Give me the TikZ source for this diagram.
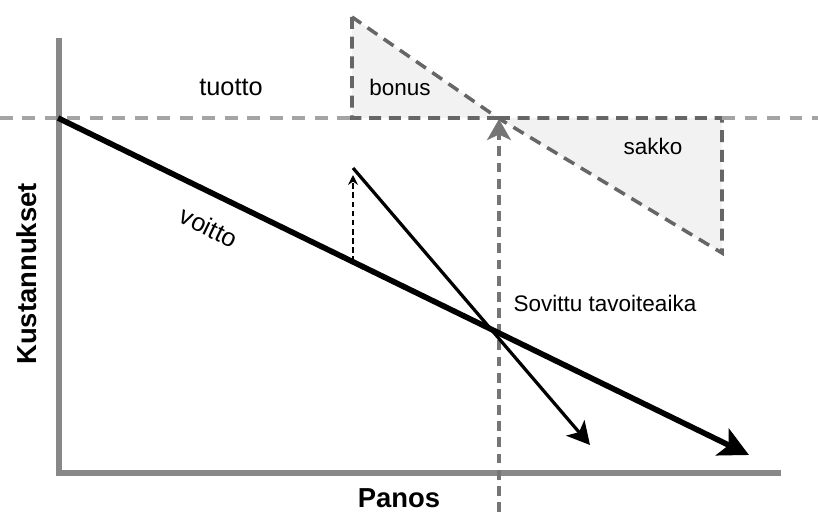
\documentclass[tikz,border=0pt]{standalone}
\usepackage{fontspec}
\setmainfont{Liberation Sans}
\usetikzlibrary{arrows.meta}

\definecolor{axisgray}{HTML}{888888}
\definecolor{refgray}{HTML}{A4A4A4}
\definecolor{zonegray}{HTML}{666666}
\definecolor{zonefill}{HTML}{F2F2F2}

\tikzstyle{axisline} = [line width=3.8pt, axisgray, line join=miter]
\tikzstyle{refline} = [line width=2.5pt, refgray, dash pattern=on 9pt off 7pt]
\tikzstyle{zone} = [line width=2.5pt, zonegray, fill=zonefill, dash pattern=on 8.5pt off 5.5pt]
\tikzstyle{targetline} = [line width=2.6pt, zonegray!90, dash pattern=on 7pt off 4.5pt,
  -{Stealth[length=15pt,width=17pt,inset=4pt]}]
\tikzstyle{costline} = [line width=4pt, -{Stealth[length=21pt,width=21pt,inset=5pt]}]
\tikzstyle{moveline} = [line width=2.3pt, -{Stealth[length=16pt,width=17pt,inset=4pt]}]
\tikzstyle{nudgeline} = [line width=1.4pt, dash pattern=on 4pt off 2.5pt, -{Stealth[length=7pt,width=7pt]}]
\tikzstyle{txt} = [inner sep=0pt, font=\fontsize{16}{19}\selectfont]
\tikzstyle{axistxt} = [inner sep=0pt, font=\fontsize{19.5}{23}\selectfont\bfseries]

\begin{document}
\begin{tikzpicture}[x=0.025cm, y=-0.025cm]
		\useasboundingbox (0,0) rectangle (818,512);
		% axes
		\coordinate (ytop) at (59,38);
		\coordinate (origin) at (59,473);
		\coordinate (xend) at (781,473);
		% bonus and sakko areas
		\coordinate (b1) at (352,17);
		\coordinate (b2) at (352,118);
		\coordinate (cross) at (498,118);
		\coordinate (s1) at (722,118);
		\coordinate (s2) at (722,253);
		\coordinate (refleft) at (0,118);
		\coordinate (refright) at (818,118);
		% lines
		\coordinate (start) at (58,118);
		\coordinate (end) at (749,455);
		\coordinate (fstart) at (353,168);
		\coordinate (fend) at (590,445);
		\coordinate (nbase) at (353,262);
		\coordinate (ntip) at (353,175);
		\coordinate (tbase) at (499,512);
		\coordinate (ttip) at (499,119);

		\draw[zone] (b1) -- (b2) -- (cross) -- cycle;
		\draw[zone] (cross) -- (s1) -- (s2) -- cycle;
		\draw[refline] (refleft) -- (b2);
		\draw[refline] (s1) -- (refright);
		\draw[axisline] (ytop) -- (origin) -- (xend);
		\draw[targetline] (tbase) -- (ttip);
		\draw[costline] (start) -- (end);
		\draw[moveline] (fstart) -- (fend);
		\draw[nudgeline] (nbase) -- (ntip);

		\node[txt, font=\fontsize{18}{21}\selectfont] (tuotto) at (231,87) {tuotto};
		\node[txt] (bonus) at (400,87) {bonus};
		\node[txt] (sakko) at (653,146) {sakko};
		\node[txt, font=\fontsize{18}{21}\selectfont, rotate=-26] (voitto) at (209,227) {voitto};
		\node[txt] (sovittu) at (605,303) {Sovittu tavoiteaika};
		\node[axistxt, rotate=90] (kustannukset) at (27,274) {Kustannukset};
		\node[axistxt] (panos) at (399,498) {Panos};
\end{tikzpicture}
\end{document}
